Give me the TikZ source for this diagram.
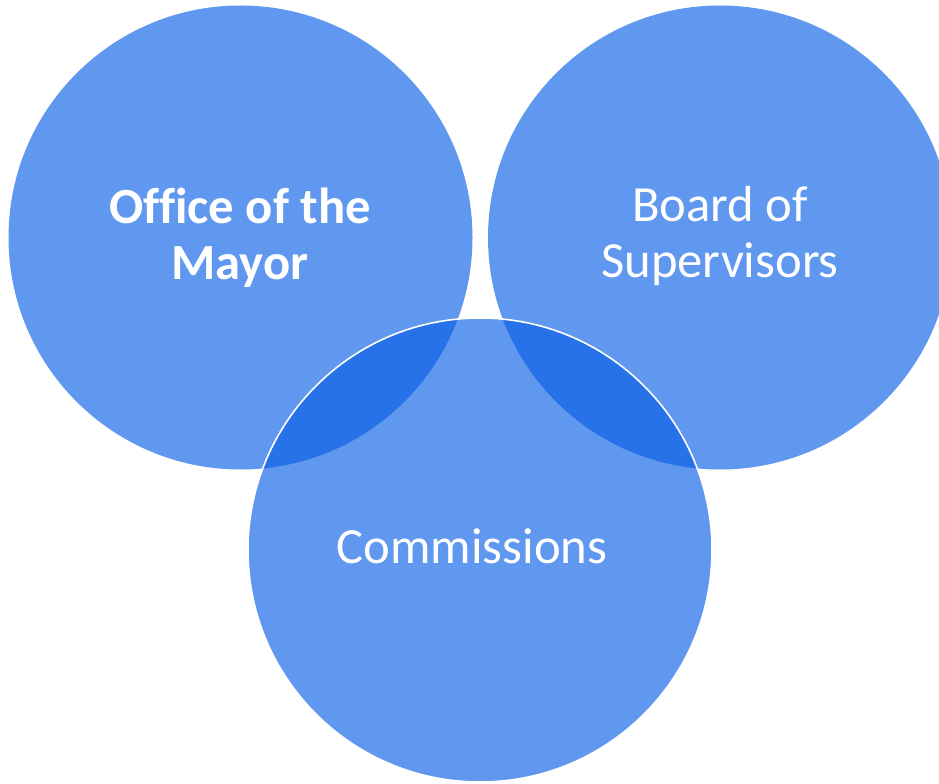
\documentclass[tikz,border=0pt]{standalone}
\usepackage{fontspec}
\setmainfont[Ligatures=NoCommon]{Carlito}
\definecolor{circblue}{RGB}{10,95,230}
\begin{document}
\begin{tikzpicture}[x=0.75pt,y=-0.75pt,
  venn/.style={fill=circblue,fill opacity=0.65,draw=none},
  vennfront/.style={venn,draw=white,draw opacity=1,line width=1.2pt},
  lbl/.style={text=white,align=center,font=\fontsize{38}{42}\selectfont,inner sep=0pt}]
\useasboundingbox (0,0) rectangle (939,784);
\fill[venn] (240.5,237.5) circle[radius=232];
\fill[venn] (720,237.5) circle[radius=232];
\path[vennfront] (480,550) circle[radius=232];
\node[lbl,anchor=base,font=\fontsize{38}{42}\selectfont\bfseries] (mayor) at (240,280) {Office of the\\Mayor};
\node[lbl,anchor=base] (board) at (720,278) {Board of\\Supervisors};
\node[lbl,anchor=base] (comm) at (472,563) {Commissions};
\end{tikzpicture}
\end{document}
